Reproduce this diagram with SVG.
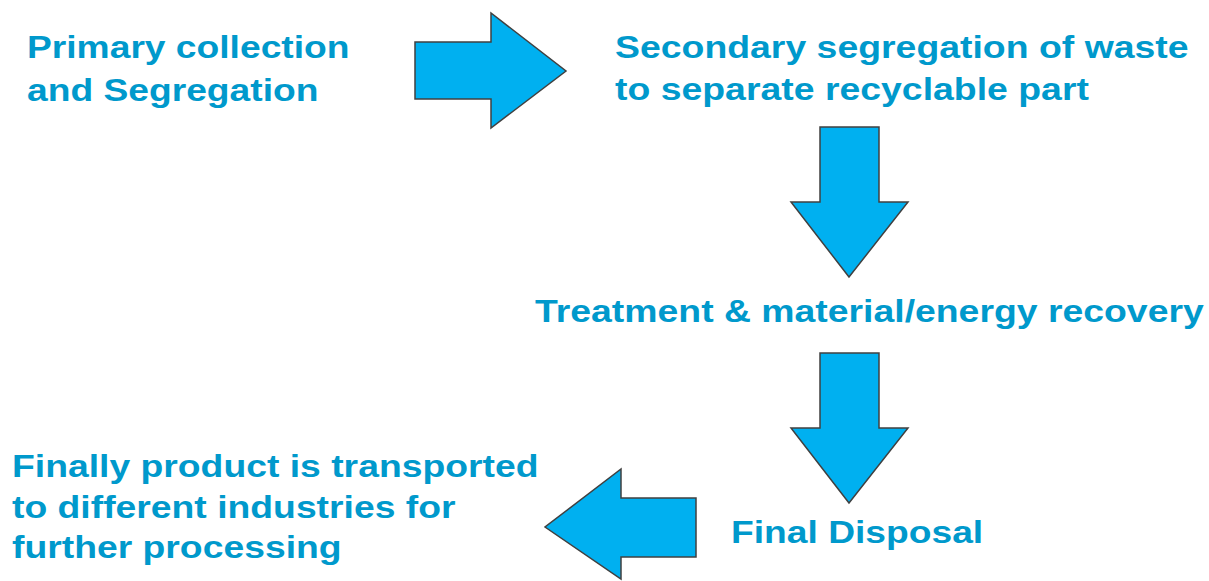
<svg xmlns="http://www.w3.org/2000/svg" width="1209" height="581" viewBox="0 0 1209 581">
  <style>
    .label { font-family: "Liberation Sans", Arial, sans-serif; font-weight: bold; font-size: 32px; fill: #0099CC; }
    .arrow { fill: #00B0F0; stroke: #404040; stroke-width: 1.5; stroke-linejoin: miter; }
  </style>
  <rect width="1209" height="581" fill="#FFFFFF"/>

  <g id="connectors">
    <polygon id="arrow-right" class="arrow" points="415,42 491,42 491,13 566,71 491,128 491,99 415,99"/>
    <polygon id="arrow-down-1" class="arrow" points="820,127 879,127 879,202 908,202 849,277 791,202 820,202"/>
    <polygon id="arrow-down-2" class="arrow" points="820,353 879,353 879,428 908,428 849,503 791,428 820,428"/>
    <polygon id="arrow-left" class="arrow" points="696,498 621,498 621,469 545,527 621,579 621,557 696,557"/>
  </g>

  <!-- labels use a horizontally widened bold sans -->
  <g id="node-primary">
    <text class="label" transform="translate(27,58) scale(1.163,1)">Primary collection</text>
    <text class="label" transform="translate(27,101) scale(1.163,1)">and Segregation</text>
  </g>

  <g id="node-secondary">
    <text class="label" transform="translate(615,58) scale(1.169,1)">Secondary segregation of waste</text>
    <text class="label" transform="translate(615,100) scale(1.169,1)">to separate recyclable part</text>
  </g>

  <g id="node-treatment">
    <text class="label" transform="translate(535,322) scale(1.168,1)">Treatment &amp; material/energy recovery</text>
  </g>

  <g id="node-disposal">
    <text class="label" transform="translate(731,543) scale(1.163,1)">Final Disposal</text>
  </g>

  <g id="node-transport">
    <text class="label" transform="translate(12,477) scale(1.166,1)">Finally product is transported</text>
    <text class="label" transform="translate(12,518) scale(1.166,1)">to different industries for</text>
    <text class="label" transform="translate(12,558) scale(1.166,1)">further processing</text>
  </g>
</svg>
